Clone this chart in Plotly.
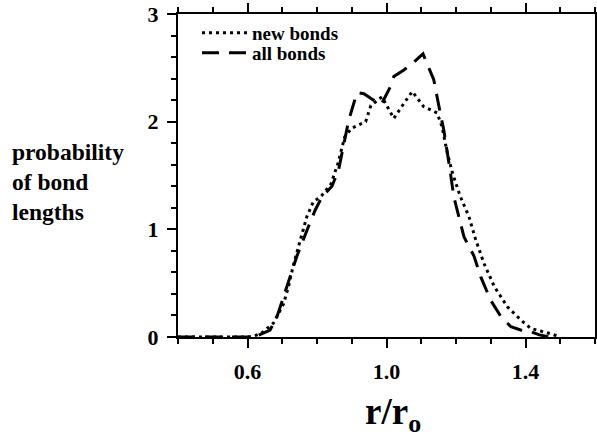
import plotly.graph_objects as go

# ---- data ----
new_x = [0.40, 0.50, 0.60, 0.62, 0.64, 0.675, 0.704, 0.718, 0.733, 0.752, 0.771, 0.79, 0.81,
         0.84, 0.86, 0.88, 0.90, 0.94, 0.955, 0.987, 1.002, 1.021, 1.05, 1.074, 1.107, 1.146,
         1.16, 1.175, 1.19, 1.213, 1.237, 1.257, 1.281, 1.31, 1.348, 1.386, 1.415, 1.454, 1.473, 1.50]
new_y = [0, 0, 0, 0.01, 0.035, 0.13, 0.31, 0.47, 0.68, 0.90, 1.12, 1.26, 1.30,
         1.42, 1.61, 1.86, 1.94, 2.0, 2.15, 2.23, 2.14, 2.03, 2.17, 2.28, 2.14, 2.08,
         1.95, 1.71, 1.52, 1.30, 1.12, 0.90, 0.68, 0.47, 0.28, 0.16, 0.08, 0.05, 0.03, 0.0]

all_x = [0.40, 0.50, 0.60, 0.627, 0.665, 0.685, 0.713, 0.742, 0.771, 0.795, 0.814, 0.843, 0.862,
         0.877, 0.891, 0.915, 0.935, 0.963, 0.985, 1.012, 1.021, 1.05, 1.074, 1.105, 1.122, 1.136,
         1.154, 1.165, 1.18, 1.194, 1.208, 1.223, 1.252, 1.271, 1.30, 1.329, 1.358, 1.386, 1.415,
         1.44, 1.47]
all_y = [0, 0, 0, 0.01, 0.065, 0.19, 0.47, 0.75, 0.99, 1.18, 1.30, 1.40, 1.55,
         1.80, 2.01, 2.27, 2.26, 2.20, 2.16, 2.33, 2.42, 2.48, 2.54, 2.63, 2.50, 2.39,
         2.09, 1.92, 1.61, 1.30, 1.12, 0.93, 0.75, 0.56, 0.34, 0.19, 0.095, 0.065, 0.05,
         0.02, 0]

x_tickvals = [0.6, 1.0, 1.4]
x_ticktext = ["0.6", "1.0", "1.4"]
y_tickvals = [0, 1, 2, 3]
y_ticktext = ["0", "1", "2", "3"]
ylabel_lines = ["probability", "of bond", "lengths"]

FONT = "Liberation Serif"
W, HGT = 597, 438
L, R, T, B = 178, 2, 14, 101
PW = W - L - R
PH = HGT - T - B

def px_x(p):
    return (p - L) / PW

def px_y(p):
    return (T + PH - p) / PH

fig = go.Figure()
fig.add_trace(go.Scatter(x=new_x, y=new_y, mode="lines", name="new bonds", legend="legend",
                         line=dict(color="black", width=3, dash="3px,4px")))
fig.add_trace(go.Scatter(x=all_x, y=all_y, mode="lines", name="all bonds", legend="legend2",
                         line=dict(color="black", width=3, dash="17px,10px")))

axis_common = dict(showline=True, linecolor="black", linewidth=2, mirror="allticks",
                   ticks="outside", tickcolor="black", tickwidth=2, showgrid=False,
                   zeroline=False, automargin=False,
                   tickfont=dict(family=FONT, size=22, color="black", weight="bold"))

fig.update_xaxes(range=[0.4, 1.6], tickvals=x_tickvals, ticktext=x_ticktext, ticklen=9,
                 ticklabelstandoff=5,
                 minor=dict(dtick=0.1, tick0=0.4, ticklen=5, ticks="outside",
                            tickcolor="black", tickwidth=2),
                 **axis_common)
fig.update_yaxes(range=[0, 3], tickvals=y_tickvals, ticktext=y_ticktext, ticklen=9,
                 ticklabelstandoff=4,
                 minor=dict(dtick=0.2, tick0=0, ticklen=5, ticks="outside",
                            tickcolor="black", tickwidth=2),
                 **axis_common)

annotations = []
for txt, py in zip(ylabel_lines, [152, 182, 212]):
    annotations.append(dict(text=txt, xref="paper", yref="paper",
                            x=px_x(10), y=px_y(py),
                            xanchor="left", yanchor="middle", showarrow=False,
                            font=dict(family=FONT, size=23.5, color="black", weight="bold")))
annotations.append(dict(text="r/r<sub>o</sub>", xref="paper", yref="paper",
                        x=px_x(393), y=px_y(414),
                        xanchor="center", yanchor="middle", showarrow=False,
                        font=dict(family=FONT, size=37, color="black", weight="bold")))

leg_common = dict(xanchor="left", yanchor="middle", bgcolor="rgba(0,0,0,0)", itemwidth=45,
                  font=dict(family=FONT, size=19, color="black", weight="bold"))

fig.update_layout(
    width=W, height=HGT,
    margin=dict(l=L, r=R, t=T, b=B, autoexpand=False),
    paper_bgcolor="white", plot_bgcolor="white",
    showlegend=True,
    legend=dict(x=px_x(197), y=px_y(33), **leg_common),
    legend2=dict(x=px_x(197), y=px_y(53), **leg_common),
    annotations=annotations,
)

fig.write_html("out.html", config={"displayModeBar": False},
               post_script="document.body.style.margin='0';document.body.style.overflow='hidden';")
